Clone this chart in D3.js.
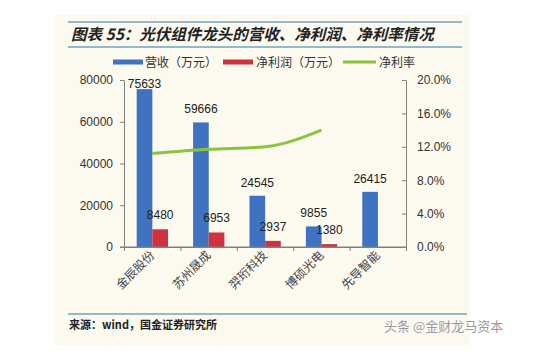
<!DOCTYPE html>
<html><head><meta charset="utf-8">
<script src="https://cdn.jsdelivr.net/npm/d3@7/dist/d3.min.js"></script>
<style>
body{margin:0;background:#fff;}
svg{display:block;}
</style></head>
<body>
<svg id="c" width="550" height="358"></svg>
<script>
const categories = ["金辰股份","苏州晟成","羿珩科技","博硕光电","先导智能"];
const revenue = [75633, 59666, 24545, 9855, 26415];
const netProfit = [8480, 6953, 2937, 1380, null];
const netMargin = [0.112, 0.117, 0.120, 0.140, null];
const leftTicks = [0, 20000, 40000, 60000, 80000];
const rightTicks = [0, 0.04, 0.08, 0.12, 0.16, 0.20];
const seriesNames = ["营收（万元）","净利润（万元）","净利率"];
const titleText = "图表 55：光伏组件龙头的营收、净利润、净利率情况";
const sourceText = "来源：wind，国金证券研究所";

const colors = {rev:"#3f73c2", np:"#d0313f", nm:"#8cc43f"};
const cjk = "'Noto Sans CJK SC','Liberation Sans',sans-serif";
const num = "'Liberation Sans',Arial,sans-serif";

const svg = d3.select("#c");
// panel
svg.append("rect").attr("x",55).attr("y",15).attr("width",415).attr("height",330).attr("fill","#fcf9ef");
// title lines
svg.append("line").attr("x1",68).attr("x2",462).attr("y1",22).attr("y2",22).attr("stroke","#94b9cb").attr("stroke-width",2);
svg.append("line").attr("x1",68).attr("x2",462).attr("y1",47).attr("y2",47).attr("stroke","#94b9cb").attr("stroke-width",2);
svg.append("text").attr("x",71).attr("y",40).text(titleText)
  .attr("font-family",cjk).attr("font-size",15.5).attr("font-weight","bold").attr("font-style","italic").attr("fill","#222");

// footer
svg.append("line").attr("x1",68).attr("x2",467).attr("y1",314).attr("y2",314).attr("stroke","#94b9cb").attr("stroke-width",2);
svg.append("text").attr("x",69).attr("y",329).text(sourceText)
  .attr("font-family",cjk).attr("font-size",11).attr("font-weight","bold").attr("fill","#222");
svg.append("text").attr("x",384).attr("y",331).text("头条 @金财龙马资本")
  .attr("font-family",cjk).attr("font-size",13).attr("fill","#9a9a9a")
  .attr("stroke","#fff").attr("stroke-width",0.6).attr("paint-order","stroke");

// scales
const x = d3.scaleBand().domain(categories).range([124,406]).padding(0);
const bw = x.bandwidth();
const x1 = d3.scaleBand().domain(["rev","np"]).range([bw*0.225, bw*0.78]).padding(0);
const y = d3.scaleLinear().domain([0,80000]).range([247,80]);
const yR = d3.scaleLinear().domain([0,0.2]).range([247,80]);

// legend
const leg = [
  {name:seriesNames[0], c:colors.rev, x:113, w:30, tx:145},
  {name:seriesNames[1], c:colors.np, x:223, w:30, tx:256},
  {name:seriesNames[2], c:colors.nm, x:343, w:33, tx:379}
];
leg.forEach(l=>{
  svg.append("line").attr("x1",l.x).attr("x2",l.x+l.w).attr("y1",62).attr("y2",62).attr("stroke",l.c).attr("stroke-width",l.c===colors.nm?3:5);
  svg.append("text").attr("x",l.tx).attr("y",66.5).text(l.name).attr("font-family",cjk).attr("font-size",12).attr("fill","#333");
});

// bars
const g = svg.append("g");
categories.forEach((cat,i)=>{
  const bx = x(cat);
  g.append("rect").attr("x",bx+x1("rev")).attr("width",x1.bandwidth()).attr("y",y(revenue[i])).attr("height",y(0)-y(revenue[i])).attr("fill",colors.rev);
  if(netProfit[i]!=null){
    g.append("rect").attr("x",bx+x1("np")).attr("width",x1.bandwidth()).attr("y",y(netProfit[i])).attr("height",y(0)-y(netProfit[i])).attr("fill",colors.np);
  }
});

// axes
const axisColor = "#808080";
const gl = svg.append("g").attr("transform","translate(124,0)")
  .call(d3.axisLeft(y).tickValues(leftTicks).tickSize(4).tickSizeOuter(0).tickFormat(d3.format("d")));
const gr = svg.append("g").attr("transform","translate(406,0)")
  .call(d3.axisRight(yR).tickValues(rightTicks).tickSize(-4).tickSizeOuter(0).tickFormat(d3.format(".1%")).tickPadding(11));
const gx = svg.append("g").attr("transform","translate(0,247)")
  .call(d3.axisBottom(d3.scaleLinear().domain([0,5]).range([124,406])).tickValues([0,1,2,3,4,5]).tickSize(4).tickSizeOuter(0).tickFormat(""));
svg.append("line").attr("x1",120).attr("x2",406).attr("y1",247).attr("y2",247).attr("stroke",axisColor);
[gl,gr,gx].forEach(a=>{
  a.selectAll("path,line").attr("stroke",axisColor);
  a.selectAll("text").attr("font-family",num).attr("font-size",12).attr("fill","#333");
});
gl.selectAll("text").attr("dx",-4);

// category labels
categories.forEach(cat=>{
  const cx = x(cat)+bw/2+3;
  svg.append("text").attr("transform",`translate(${cx},256) rotate(-45)`)
    .attr("text-anchor","end").text(cat).attr("font-family",cjk).attr("font-size",12).attr("fill","#444");
});

// net margin line
const pts = netMargin.map((v,i)=>({v,i})).filter(d=>d.v!=null);
svg.append("path").datum(pts)
  .attr("d", d3.line().x(d=>x(categories[d.i])+bw/2).y(d=>yR(d.v)).curve(d3.curveMonotoneX))
  .attr("fill","none").attr("stroke",colors.nm).attr("stroke-width",3);

// data labels
categories.forEach((cat,i)=>{
  const bx = x(cat);
  svg.append("text").attr("x",bx+x1("rev")+x1.bandwidth()/2).attr("y",Math.max(y(revenue[i])-9, y(80000)+8))
    .attr("text-anchor","middle").text(revenue[i]).attr("font-family",num).attr("font-size",12).attr("fill","#222");
  if(netProfit[i]!=null){
    svg.append("text").attr("x",bx+x1("np")+x1.bandwidth()/2).attr("y",y(netProfit[i])-10)
      .attr("text-anchor","middle").text(netProfit[i]).attr("font-family",num).attr("font-size",12).attr("fill","#222");
  }
});
</script>
</body></html>
